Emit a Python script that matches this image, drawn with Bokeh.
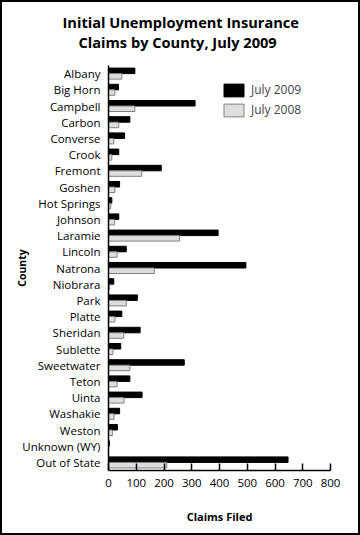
import math
from bokeh.plotting import figure
from bokeh.models import (Range1d, FactorRange, Title, Legend, LegendItem,
                          FixedTicker, ColumnDataSource)
from bokeh.transform import dodge
from bokeh.embed import file_html
from bokeh.resources import INLINE

counties = ["Albany", "Big Horn", "Campbell", "Carbon", "Converse", "Crook",
            "Fremont", "Goshen", "Hot Springs", "Johnson", "Laramie", "Lincoln",
            "Natrona", "Niobrara", "Park", "Platte", "Sheridan", "Sublette",
            "Sweetwater", "Teton", "Uinta", "Washakie", "Weston",
            "Unknown (WY)", "Out of State"]
claims_2009 = [95, 36, 312, 77, 58, 37, 190, 40, 12, 37, 395, 64, 495, 19,
               104, 48, 114, 44, 273, 77, 121, 40, 32, 3, 647]
claims_2008 = [48, 23, 95, 37, 19, 12, 120, 23, 8, 22, 256, 31, 165, 4,
               64, 23, 55, 16, 77, 31, 56, 20, 14, 0, 210]
x_ticks = [0, 100, 200, 300, 400, 500, 600, 700, 800]
series_names = ["July 2009", "July 2008"]
title_lines = ["Initial Unemployment Insurance", "Claims by County, July 2009"]

FONT = "Open Sans"

src = ColumnDataSource(dict(county=counties, c2009=claims_2009, c2008=claims_2008))

p = figure(width=360, height=535,
           y_range=FactorRange(factors=counties[::-1]),
           x_range=Range1d(0, 800),
           output_backend="svg", toolbar_location=None,
           min_border_left=106, min_border_right=32,
           min_border_top=63, min_border_bottom=67)
p.outline_line_color = None
p.grid.visible = False
p.background_fill_color = "white"
p.border_fill_color = "white"

# title lines: p.title is the outer line, the added Title sits next to the plot
p.title.text = title_lines[0]
p.title.align = "left"
p.title.offset = -46
p.title.text_font = FONT
p.title.text_font_style = "bold"
p.title.text_font_size = "14.6px"
p.title.text_color = "black"
p.title.standoff = -32
p.add_layout(Title(text=title_lines[1], align="left", offset=-30,
                   text_font=FONT, text_font_style="bold", text_font_size="14.6px",
                   text_color="black", standoff=28), "above")

r09 = p.hbar(y=dodge("county", 0.17, range=p.y_range), right="c2009", left=0,
             height=0.34, source=src, fill_color="black", line_color="black",
             line_width=1)
r08 = p.hbar(y=dodge("county", -0.17, range=p.y_range), right="c2008", left=0,
             height=0.34, source=src, fill_color="#dedede", line_color="#808080",
             line_width=1)

xa = p.xaxis[0]
xa.ticker = FixedTicker(ticks=x_ticks)
xa.major_tick_in = 7
xa.major_tick_out = 0
xa.minor_tick_line_color = None
xa.axis_line_width = 1.5
xa.major_tick_line_width = 1.5
xa.axis_line_color = "black"
xa.major_label_text_font = FONT
xa.major_label_text_font_size = "11.5px"
xa.major_label_text_color = "black"
xa.major_label_standoff = 8
xa.axis_label = "Claims Filed"
xa.axis_label_text_font = FONT
xa.axis_label_text_font_style = "bold"
xa.axis_label_text_font_size = "11px"
xa.axis_label_standoff = 19
xa.axis_label_text_color = "black"

ya = p.yaxis[0]
ya.major_tick_in = 0
ya.major_tick_out = 0
ya.minor_tick_line_color = None
ya.axis_line_width = 1.5
ya.axis_line_color = "black"
ya.major_label_text_font = FONT
ya.major_label_text_font_size = "11.5px"
ya.major_label_text_color = "black"
ya.major_label_standoff = 8
ya.axis_label = "County"
ya.axis_label_text_font = FONT
ya.axis_label_text_font_style = "bold"
ya.axis_label_text_font_size = "10.5px"
ya.axis_label_standoff = -10
ya.axis_label_text_color = "black"

legend = Legend(items=[LegendItem(label=series_names[0], renderers=[r09]),
                       LegendItem(label=series_names[1], renderers=[r08])],
                location=(113, 352), padding=0, spacing=3,
                glyph_width=25, glyph_height=16, label_standoff=5,
                border_line_color=None, background_fill_alpha=0,
                label_text_font=FONT, label_text_font_size="12px",
                label_height=16)
p.add_layout(legend)

p.styles = {"border": "2px solid black", "box-sizing": "border-box"}

open("out.html", "w").write(file_html(p, INLINE))
